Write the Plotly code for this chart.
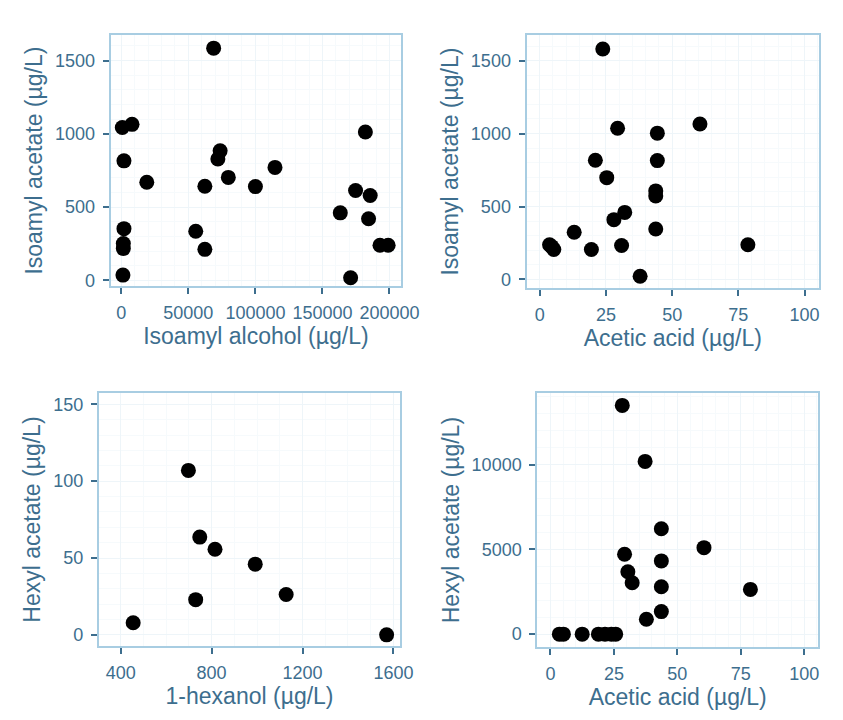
import plotly.graph_objects as go

# ---- data ----
iso_alcohol = [68850, 730, 8000, 1970, 19000, 62300, 73700, 72000, 79800, 100000, 114600,
               55500, 62300, 1970, 1500, 1500, 1200, 182000, 163300, 174700, 185600, 184400,
               171000, 192900, 199000]
iso_acetate_a = [1585, 1043, 1065, 816, 670, 642, 884, 828, 703, 640, 771,
                 335, 212, 353, 251, 217, 36, 1013, 461, 613, 579, 421,
                 18, 240, 240]

acetic_acid_a = [23.8, 29.4, 60.5, 44.4, 21, 44.4, 25.3, 43.8, 43.8, 32.1, 28, 43.8, 13,
                 3.7, 5.3, 4.5, 19.5, 30.9, 78.6, 37.9]
iso_acetate_b = [1580, 1037, 1066, 1003, 817, 815, 698, 607, 573, 460, 410, 346, 324,
                 238, 206, 225, 206, 233, 238, 22]

hexanol = [698, 748, 815, 992, 730, 1128, 455, 1570]
hexyl_acetate_a = [107, 63.6, 55.7, 46, 22.9, 26.3, 7.9, 0]

acetic_acid_b = [28.3, 37.3, 43.7, 60.5, 29.2, 30.5, 32.2, 43.7, 43.7, 78.8, 37.8, 43.7,
                 3.5, 5.1, 12.5, 18.9, 21.5, 24, 25.7]
hexyl_acetate_b = [13498, 10194, 6221, 5106, 4718, 3680, 3034, 4325, 2799, 2641, 880, 1332,
                   0, 0, 0, 0, 0, 0, 0]

x_titles = ["Isoamyl alcohol (µg/L)", "Acetic acid (µg/L)", "1-hexanol (µg/L)", "Acetic acid (µg/L)"]
y_titles = ["Isoamyl acetate (µg/L)", "Isoamyl acetate (µg/L)", "Hexyl acetate (µg/L)", "Hexyl acetate (µg/L)"]

x_ticks = [[0, 50000, 100000, 150000, 200000], [0, 25, 50, 75, 100], [400, 800, 1200, 1600], [0, 25, 50, 75, 100]]
y_ticks = [[0, 500, 1000, 1500], [0, 500, 1000, 1500], [0, 50, 100, 150], [0, 5000, 10000]]

# ---- layout geometry (pixels) ----
W, H = 843, 720
panels = [  # x0, x1, y0(top), y1(bottom)
    (113, 410, 35, 288),
    (538, 837, 35, 290),
    (101, 409, 395, 650),
    (549, 836, 395, 651),
]
x_ranges = [[-8000, 208760], [-5, 105.5], [304, 1630], [-5.2, 105.5]]
y_ranges = [[-41, 1676], [-61, 1677], [-7.5, 157.5], [-780, 14243]]

TEXT = "#3d6e8e"
FRAME = "#a8cde2"
GRID = "#eef5f9"
FONT = "Liberation Sans, Arial, sans-serif"

series = [(iso_alcohol, iso_acetate_a), (acetic_acid_a, iso_acetate_b),
          (hexanol, hexyl_acetate_a), (acetic_acid_b, hexyl_acetate_b)]

fig = go.Figure()
layout = dict(width=W, height=H, margin=dict(l=0, r=0, t=0, b=0),
              paper_bgcolor="white", plot_bgcolor="white", showlegend=False,
              font=dict(family=FONT, color=TEXT))

for i, ((xs, ys), (x0, x1, yt, yb)) in enumerate(zip(series, panels)):
    n = "" if i == 0 else str(i + 1)
    fig.add_trace(go.Scatter(x=xs, y=ys, mode="markers", xaxis="x" + n, yaxis="y" + n,
                             marker=dict(color="black", size=15, line=dict(width=0)),
                             hoverinfo="x+y"))
    common = dict(showline=True, mirror=True, linecolor=FRAME, linewidth=2,
                  ticks="outside", ticklen=6, tickwidth=1.5, tickcolor=TEXT,
                  showgrid=True, gridcolor=GRID, gridwidth=1.2, zeroline=False,
                  tickformat="d",
                  tickfont=dict(size=18, color=TEXT, family=FONT),
                  minor=dict(showgrid=True, gridcolor="#f6fafc", gridwidth=1))
    layout["xaxis" + n] = dict(common, domain=[x0 / W, x1 / W], anchor="y" + n,
                               range=x_ranges[i], tickmode="array", tickvals=x_ticks[i],
                               ticklabelstandoff=3,
                               title=dict(text=x_titles[i], font=dict(size=23, color=TEXT, family=FONT),
                                          standoff=2))
    layout["yaxis" + n] = dict(common, domain=[1 - yb / H, 1 - yt / H], anchor="x" + n,
                               range=y_ranges[i], tickmode="array", tickvals=y_ticks[i],
                               ticklabelstandoff=4,
                               title=dict(text=y_titles[i], font=dict(size=23, color=TEXT, family=FONT),
                                          standoff=6))

fig.update_layout(**layout)
fig.write_html("out.html", config={"displayModeBar": False},
               post_script="document.body.style.margin='0';document.body.style.overflow='hidden';")
